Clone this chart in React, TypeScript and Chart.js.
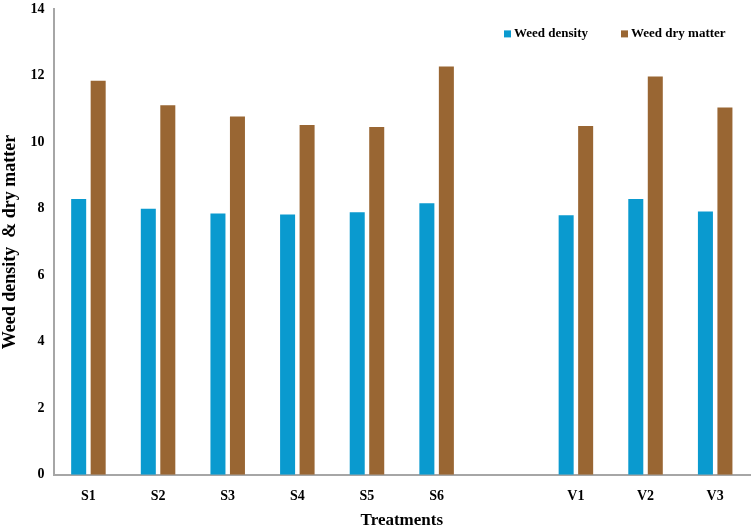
import { useEffect, useRef } from "react"
import { Chart, registerables } from "chart.js"

Chart.register(...registerables)

const treatments = ["S1", "S2", "S3", "S4", "S5", "S6", "", "V1", "V2", "V3"]
const weedDensity = [8.3, 8.0, 7.86, 7.83, 7.9, 8.17, null, 7.81, 8.3, 7.92]
const weedDryMatter = [11.85, 11.12, 10.78, 10.52, 10.46, 12.28, null, 10.49, 11.98, 11.05]

const serif = "'Liberation Serif', 'Times New Roman', serif"

// legend drawn inside the plot, top right, like the original figure
const insideLegend = {
  id: "insideLegend",
  afterDraw(chart: Chart) {
    const { ctx, chartArea } = chart
    const starts = [chartArea.right - 246, chartArea.right - 129]
    const y = chartArea.top + 24
    ctx.save()
    ctx.font = `bold 13px ${serif}`
    ctx.textBaseline = "middle"
    chart.data.datasets.forEach((ds, i) => {
      const x = starts[i]
      ctx.fillStyle = ds.backgroundColor as string
      ctx.fillRect(x, y - 3, 7, 7)
      ctx.fillStyle = "#000"
      ctx.fillText(ds.label || "", x + 10, y)
    })
    ctx.restore()
  },
}

export default function App() {
  const chartRef = useRef<HTMLCanvasElement>(null)
  const chartInstance = useRef<Chart | null>(null)

  useEffect(() => {
    if (!chartRef.current) return
    const ctx = chartRef.current.getContext("2d")
    if (!ctx) return

    if (chartInstance.current) {
      chartInstance.current.destroy()
    }

    chartInstance.current = new Chart(ctx, {
      type: "bar",
      data: {
        labels: treatments,
        datasets: [
          {
            label: "Weed density",
            data: weedDensity,
            backgroundColor: "#0A9ACF",
            categoryPercentage: 0.56,
            barPercentage: 0.77,
          },
          {
            label: "Weed dry matter",
            data: weedDryMatter,
            backgroundColor: "#996633",
            categoryPercentage: 0.56,
            barPercentage: 0.77,
          },
        ],
      },
      options: {
        animation: false,
        responsive: true,
        maintainAspectRatio: false,
        layout: {
          padding: { top: 0, right: 4, bottom: 0, left: 0 },
        },
        scales: {
          x: {
            grid: { display: false, drawTicks: false },
            border: { color: "#A6A6A6", width: 2 },
            ticks: {
              color: "#000",
              padding: 13,
              font: { family: serif, size: 14, weight: "bold" },
            },
            title: {
              display: true,
              text: "Treatments",
              color: "#000",
              padding: { top: -7, bottom: 0 },
              font: { family: serif, size: 17, weight: "bold" },
            },
          },
          y: {
            min: 0,
            max: 14,
            grid: { display: false, drawTicks: false },
            border: { color: "#A6A6A6", width: 2 },
            ticks: {
              stepSize: 2,
              color: "#000",
              padding: 9,
              font: { family: serif, size: 14, weight: "bold" },
            },
            title: {
              display: true,
              text: "Weed density  & dry matter",
              color: "#000",
              padding: { top: 0, bottom: 0 },
              font: { family: serif, size: 18, weight: "bold" },
            },
          },
        },
        plugins: {
          legend: { display: false },
          tooltip: { enabled: false },
        },
      },
      plugins: [insideLegend],
    })

    return () => {
      if (chartInstance.current) {
        chartInstance.current.destroy()
        chartInstance.current = null
      }
    }
  }, [])

  return (
    <div style={{ position: "fixed", left: 0, top: -8, width: 754, height: 539, background: "#fff" }}>
      <canvas ref={chartRef} />
    </div>
  )
}
